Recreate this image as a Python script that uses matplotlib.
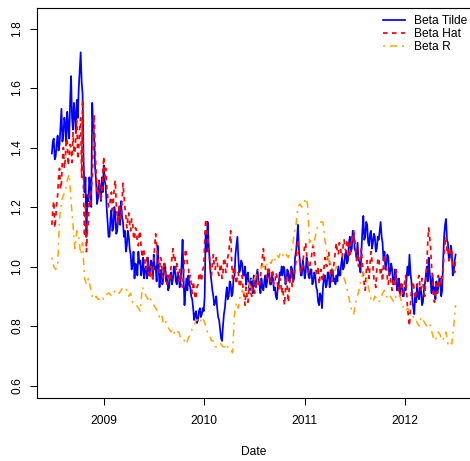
import matplotlib
matplotlib.use("Agg")
import matplotlib.pyplot as plt
import pandas as pd

plt.rcParams['font.family'] = ['Liberation Sans', 'DejaVu Sans']
plt.rcParams['lines.scale_dashes'] = False

# ---------------- data ----------------
start_date = "2008-06-25"   # first observation
step_fine = "84h"           # twice-weekly observations for Beta Tilde / Beta Hat
step_coarse = "7D"          # weekly observations for Beta R

beta_tilde = [
    1.38, 1.42, 1.43, 1.36, 1.37, 1.41, 1.44, 1.39, 1.41, 1.47, 1.53, 1.42, 1.44, 1.50, 1.48, 1.42, 1.52, 1.47, 1.43, 1.55,
    1.64, 1.50, 1.46, 1.55, 1.51, 1.45, 1.56, 1.50, 1.60, 1.66, 1.72, 1.62, 1.58, 1.36, 1.25, 1.30, 1.10, 1.24, 1.22, 1.30,
    1.27, 1.20, 1.55, 1.47, 1.44, 1.33, 1.29, 1.21, 1.23, 1.29, 1.26, 1.22, 1.30, 1.25, 1.34, 1.29, 1.27, 1.20, 1.15, 1.10,
    1.10, 1.16, 1.19, 1.12, 1.13, 1.20, 1.18, 1.11, 1.12, 1.17, 1.20, 1.14, 1.22, 1.17, 1.15, 1.10, 1.12, 1.05, 1.07, 1.12,
    1.10, 1.06, 1.04, 0.99, 1.01, 1.05, 0.96, 1.01, 1.00, 0.97, 1.05, 1.01, 1.02, 0.97, 0.99, 1.03, 0.96, 0.99, 1.00, 0.96,
    1.03, 0.97, 0.98, 1.02, 1.01, 0.96, 1.04, 0.99, 1.00, 0.95, 1.07, 1.01, 0.93, 0.97, 0.99, 0.94, 0.96, 1.01, 1.00, 0.95,
    0.97, 0.92, 0.93, 0.97, 0.98, 0.94, 0.96, 1.00, 0.99, 0.95, 0.94, 0.98, 0.97, 0.93, 0.95, 1.01, 1.09, 0.96, 0.87, 0.92,
    0.96, 0.92, 0.97, 0.94, 0.93, 0.90, 0.89, 0.86, 0.82, 0.84, 0.85, 0.81, 0.82, 0.85, 0.86, 0.83, 0.84, 0.86, 0.85, 0.90,
    1.12, 1.05, 1.15, 1.08, 1.03, 0.98, 0.95, 0.92, 0.90, 0.87, 0.88, 0.90, 0.86, 0.83, 0.82, 0.79, 0.76, 0.75, 0.80, 0.84,
    0.86, 0.90, 0.93, 0.89, 0.90, 0.95, 0.94, 0.90, 0.91, 0.96, 0.97, 1.04, 1.07, 1.10, 1.03, 0.98, 0.99, 1.02, 1.01, 0.97,
    0.97, 1.00, 0.94, 0.97, 0.98, 0.93, 0.92, 0.96, 0.95, 0.91, 0.97, 0.94, 0.93, 0.97, 0.99, 0.95, 0.94, 0.91, 0.96, 0.93,
    0.92, 0.95, 0.97, 0.93, 0.95, 0.99, 0.98, 0.94, 0.94, 0.97, 0.96, 0.92, 0.93, 0.90, 0.89, 0.93, 0.94, 0.98, 0.97, 1.00,
    0.97, 1.00, 0.99, 0.94, 0.95, 0.99, 0.98, 0.95, 0.96, 1.00, 0.99, 0.95, 0.96, 1.03, 1.05, 1.09, 1.14, 1.06, 1.02, 0.97,
    0.97, 1.02, 1.00, 0.96, 0.98, 1.03, 1.01, 0.97, 0.96, 0.99, 0.99, 0.94, 0.95, 0.98, 0.97, 0.93, 0.92, 0.88, 0.87, 0.91,
    0.90, 0.86, 0.93, 0.96, 0.97, 0.93, 0.94, 0.98, 0.98, 0.93, 0.95, 0.99, 0.99, 0.95, 0.96, 0.94, 0.97, 0.95, 1.00, 0.97,
    0.97, 1.01, 1.03, 0.99, 1.00, 1.04, 1.05, 1.01, 1.02, 1.08, 1.10, 1.05, 1.06, 1.12, 1.11, 1.06, 1.05, 1.03, 1.08, 1.02,
    1.02, 0.98, 1.05, 1.12, 1.17, 1.09, 1.10, 1.15, 1.14, 1.08, 1.07, 1.11, 1.12, 1.06, 1.08, 1.11, 1.10, 1.05, 1.06, 1.10,
    1.09, 1.12, 1.15, 1.10, 1.08, 1.02, 1.05, 0.99, 1.01, 1.04, 1.03, 0.97, 0.98, 1.01, 0.99, 0.94, 0.95, 0.99, 0.97, 0.92,
    0.93, 0.96, 0.91, 0.94, 0.94, 0.90, 0.90, 0.93, 0.92, 0.96, 1.00, 0.97, 1.04, 0.98, 0.95, 0.89, 0.86, 0.84, 0.91, 0.88,
    0.94, 0.90, 0.89, 0.93, 0.92, 0.87, 0.88, 0.92, 0.94, 0.97, 1.00, 0.95, 1.03, 0.98, 0.95, 0.91, 0.97, 0.92, 0.93, 0.89,
    0.95, 0.91, 0.93, 0.96, 0.96, 0.90, 0.92, 1.02, 1.10, 1.14, 1.16, 1.09, 1.08, 1.02, 1.03, 1.07, 1.05, 0.97, 0.98, 1.02,
    1.04,
]

beta_hat = [
    1.14, 1.19, 1.22, 1.13, 1.16, 1.21, 1.24, 1.30, 1.33, 1.26, 1.28, 1.36, 1.40, 1.33, 1.36, 1.43, 1.42, 1.34, 1.37, 1.41,
    1.40, 1.35, 1.45, 1.39, 1.38, 1.44, 1.49, 1.36, 1.40, 1.47, 1.50, 1.30, 1.56, 1.25, 1.10, 1.20, 1.05, 1.12, 1.15, 1.24,
    1.20, 1.26, 1.30, 1.42, 1.51, 1.40, 1.32, 1.25, 1.24, 1.29, 1.27, 1.22, 1.25, 1.31, 1.37, 1.30, 1.33, 1.27, 1.24, 1.20,
    1.20, 1.23, 1.25, 1.19, 1.22, 1.27, 1.29, 1.21, 1.17, 1.14, 1.21, 1.18, 1.16, 1.22, 1.28, 1.24, 1.20, 1.17, 1.13, 1.16,
    1.18, 1.14, 1.12, 1.16, 1.15, 1.10, 1.09, 1.13, 1.12, 1.08, 1.07, 1.12, 1.11, 1.06, 1.03, 1.06, 1.05, 1.01, 0.99, 1.03,
    1.00, 0.97, 0.96, 1.00, 0.99, 0.95, 1.02, 1.07, 1.11, 1.07, 1.04, 1.00, 0.98, 1.03, 1.02, 0.97, 0.96, 1.01, 0.99, 0.95,
    0.94, 0.97, 0.98, 0.95, 1.00, 1.03, 1.06, 1.02, 1.03, 0.99, 1.01, 0.97, 0.95, 0.99, 0.98, 0.94, 0.93, 0.98, 1.02, 1.06,
    1.04, 1.01, 1.00, 0.96, 0.97, 0.94, 0.91, 0.95, 0.93, 0.89, 0.90, 0.93, 0.94, 0.97, 0.98, 0.95, 0.96, 0.99, 1.00, 1.08,
    1.16, 1.12, 1.10, 1.05, 1.03, 0.99, 0.97, 1.01, 1.04, 1.00, 0.99, 1.03, 1.02, 0.98, 0.97, 1.00, 1.01, 0.96, 0.98, 1.03,
    1.02, 0.98, 0.99, 1.03, 1.05, 1.08, 1.12, 1.02, 0.96, 0.99, 1.00, 0.96, 0.94, 0.97, 0.98, 0.94, 0.93, 0.96, 0.97, 0.92,
    0.90, 0.87, 0.93, 0.90, 0.88, 0.92, 0.94, 0.91, 0.90, 0.93, 0.95, 0.91, 0.92, 0.96, 0.97, 0.93, 0.94, 0.97, 0.99, 1.03,
    1.06, 1.02, 1.00, 0.97, 0.96, 1.00, 0.99, 0.96, 0.95, 0.99, 0.98, 0.94, 0.94, 0.98, 0.97, 0.93, 0.92, 0.96, 0.95, 0.91,
    0.93, 0.90, 0.87, 0.92, 0.97, 0.92, 0.88, 0.93, 0.96, 0.99, 0.93, 0.96, 0.97, 0.99, 1.02, 1.06, 1.09, 1.04, 1.01, 0.98,
    0.98, 1.01, 1.04, 1.07, 1.08, 1.04, 1.02, 0.98, 0.99, 1.02, 1.03, 1.06, 1.07, 1.04, 1.01, 0.98, 0.97, 1.00, 0.94, 0.97,
    0.99, 0.96, 0.95, 0.99, 1.03, 1.01, 1.00, 1.04, 1.05, 1.01, 0.98, 0.95, 0.96, 1.00, 1.02, 1.06, 1.08, 1.05, 1.04, 1.08,
    1.07, 1.04, 1.03, 1.07, 1.09, 1.06, 1.05, 1.09, 1.08, 1.04, 1.03, 1.07, 1.10, 1.08, 1.12, 1.09, 1.07, 1.02, 1.04, 1.00,
    1.00, 1.04, 1.06, 1.01, 0.97, 0.94, 0.92, 0.98, 1.02, 0.99, 0.96, 1.01, 1.05, 1.02, 1.00, 0.96, 0.95, 0.93, 0.99, 1.02,
    1.03, 1.00, 0.97, 0.99, 0.95, 1.01, 1.04, 1.02, 1.00, 0.96, 0.94, 0.98, 0.97, 0.94, 0.92, 0.95, 0.96, 0.94, 0.99, 0.96,
    0.94, 0.91, 0.90, 0.93, 0.95, 0.91, 0.92, 0.95, 0.97, 0.91, 0.86, 0.83, 0.80, 0.87, 0.92, 0.94, 0.95, 0.91, 0.89, 0.92,
    0.93, 0.96, 0.97, 0.93, 0.92, 0.96, 0.95, 0.91, 0.90, 0.96, 1.00, 1.08, 1.13, 1.10, 1.06, 1.00, 0.96, 0.90, 0.88, 0.92,
    0.94, 0.91, 0.97, 0.94, 0.93, 0.97, 0.96, 1.00, 1.04, 1.08, 1.10, 1.05, 1.06, 1.02, 1.03, 1.06, 1.05, 1.01, 1.00, 0.98,
    1.03,
]

beta_r = [
    1.03, 1.00, 0.99, 1.00, 1.16, 1.22, 1.24, 1.25, 1.29, 1.31,
    1.22, 1.14, 1.06, 1.12, 1.10, 1.04, 1.08, 0.96, 0.94, 0.96,
    0.93, 0.90, 0.89, 0.90, 0.89, 0.89, 0.90, 0.89, 0.90, 0.91,
    0.91, 0.90, 0.91, 0.92, 0.92, 0.91, 0.92, 0.93, 0.93, 0.92,
    0.90, 0.91, 0.88, 0.87, 0.87, 0.86, 0.85, 0.93, 0.92, 0.90,
    0.89, 0.90, 0.88, 0.87, 0.86, 0.85, 0.83, 0.84, 0.81, 0.82,
    0.80, 0.79, 0.78, 0.79, 0.77, 0.78, 0.78, 0.76, 0.76, 0.75,
    0.74, 0.76, 0.77, 0.79, 0.80, 0.82, 0.82, 0.81, 0.83, 0.82,
    0.80, 0.78, 0.77, 0.75, 0.75, 0.73, 0.73, 0.74, 0.74, 0.73,
    0.73, 0.74, 0.72, 0.72, 0.71, 0.84, 0.88, 0.86, 0.90, 0.92,
    0.91, 0.94, 0.95, 0.93, 0.96, 0.95, 0.97, 0.99, 0.98, 1.00,
    1.00, 0.99, 1.01, 1.02, 1.01, 1.03, 1.02, 1.04, 1.03, 1.05,
    1.04, 1.03, 1.04, 1.03, 1.05, 1.06, 1.11, 1.14, 1.20, 1.21,
    1.20, 1.21, 1.23, 1.21, 1.08, 1.09, 1.07, 1.10, 1.13, 1.14,
    1.15, 1.15, 1.09, 1.05, 1.02, 1.00, 0.99, 0.98, 1.00, 0.99,
    0.99, 0.98, 0.96, 0.94, 0.91, 0.88, 0.85, 0.84, 0.88, 0.90,
    0.93, 0.96, 0.98, 0.97, 0.95, 0.92, 0.89, 0.88, 0.90, 0.89,
    0.88, 0.89, 0.91, 0.92, 0.90, 0.89, 0.90, 0.89, 0.88, 0.90,
    0.91, 0.90, 0.88, 0.86, 0.85, 0.86, 0.85, 0.84, 0.83, 0.83,
    0.81, 0.80, 0.83, 0.82, 0.81, 0.80, 0.81, 0.80, 0.77, 0.75,
    0.76, 0.78, 0.77, 0.75, 0.76, 0.78, 0.74, 0.75, 0.74, 0.80,
    0.87,
]

series_labels = ["Beta Tilde", "Beta Hat", "Beta R"]
year_ticks = ["2009", "2010", "2011", "2012"]
y_ticks = [0.6, 0.8, 1.0, 1.2, 1.4, 1.6, 1.8]
x_label = "Date"

dates_fine = pd.date_range(start_date, periods=len(beta_tilde), freq=step_fine)
dates_coarse = pd.date_range(start_date, periods=len(beta_r), freq=step_coarse)

# ---------------- figure ----------------
W, H = 470, 461
fig = plt.figure(figsize=(W / 100, H / 100), dpi=100)
px = 0.72  # points per pixel
ax = fig.add_axes([37 / W, (H - 398) / H, (471 - 37) / W, (398 - 8) / H])

ax.plot(dates_fine, beta_tilde, color="#0000FF", lw=1.25, label=series_labels[0])
ax.plot(dates_fine, beta_hat, color="#FF0000", lw=1.25,
        linestyle=(0, (4.5 * px, 4.5 * px)), label=series_labels[1])
ax.plot(dates_coarse, beta_r, color="#FFA500", lw=1.1,
        linestyle=(0, (2 * px, 5 * px, 7 * px, 5 * px)), label=series_labels[2])

ax.set_xlim(pd.Timestamp("2008-05-02"), pd.Timestamp("2012-08-29"))
ax.set_ylim(0.558, 1.869)

ax.set_xticks([pd.Timestamp(f"{y}-01-01") for y in year_ticks])
ax.set_xticklabels(year_ticks)
ax.set_yticks(y_ticks)
ax.set_yticklabels([f"{v:.1f}" for v in y_ticks], rotation=90, va="center")

ax.tick_params(direction="out", length=7 * px, width=0.75, labelsize=12 * px,
               color="black")
ax.tick_params(axis="x", pad=7)
ax.tick_params(axis="y", pad=5)
for s in ax.spines.values():
    s.set_linewidth(0.8)
    s.set_color("black")

ax.set_xlabel(x_label, fontsize=12 * px, labelpad=14)

leg = ax.legend(loc="upper left", bbox_to_anchor=(383 / W, 1 - 15 / H),
                bbox_transform=fig.transFigure, frameon=False,
                fontsize=12 * px, handlelength=1.85, handletextpad=0.75,
                labelspacing=0.1, borderpad=0, borderaxespad=0)

fig.savefig("out.png", dpi=100)
